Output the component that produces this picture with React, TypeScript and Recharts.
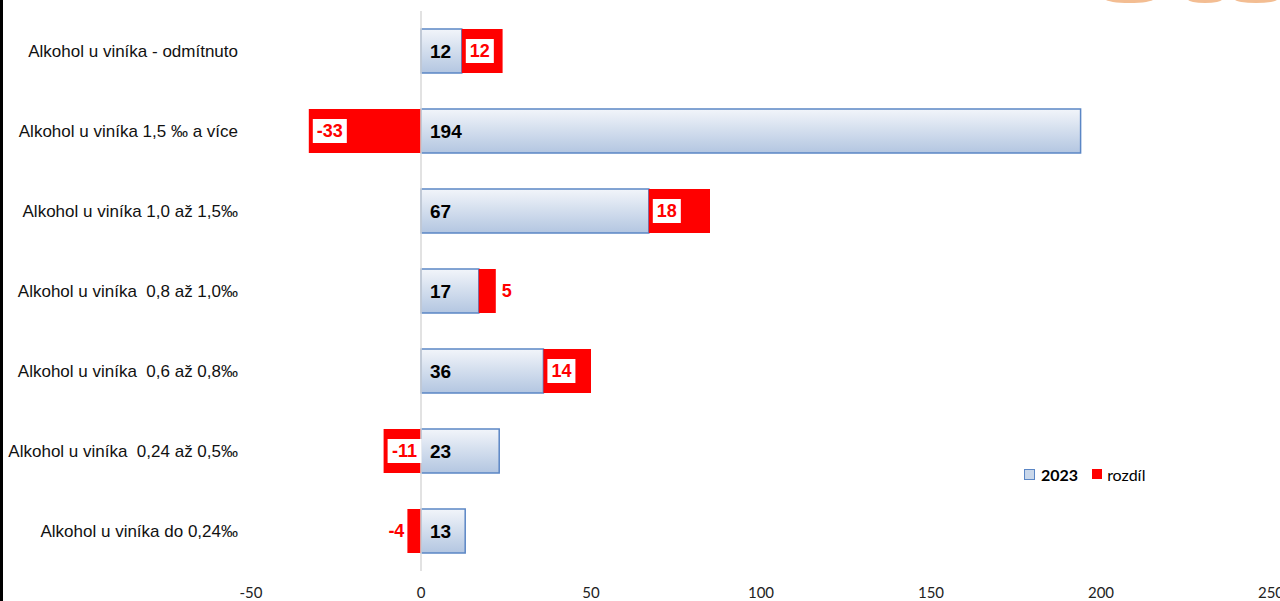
import { BarChart, Bar, XAxis, YAxis, ReferenceLine, LabelList } from 'recharts';

const categories = [
  'Alkohol u viníka - odmítnuto',
  'Alkohol u viníka 1,5 ‰ a více',
  'Alkohol u viníka 1,0 až 1,5‰',
  'Alkohol u viníka  0,8 až 1,0‰',
  'Alkohol u viníka  0,6 až 0,8‰',
  'Alkohol u viníka  0,24 až 0,5‰',
  'Alkohol u viníka do 0,24‰',
];
const values2023 = [12, 194, 67, 17, 36, 23, 13];
const rozdil = [12, -33, 18, 5, 14, -11, -4];
const xTicks = [-50, 0, 50, 100, 150, 200, 250];

const data = categories.map((name, i) => ({
  name,
  v2023: values2023[i],
  rozdil: rozdil[i],
}));

const ARIAL = '"Liberation Sans", Arial, sans-serif';
const CALIBRI = 'Lato, "Open Sans", sans-serif';
const RED_SIZE = 18;

// rough width of bold Arial digits, for the white label boxes
const textWidth = (s: string, size: number) =>
  s.split('').reduce((w, ch) => w + (ch === '-' ? 0.333 : 0.556) * size, 0);

const CategoryTick = ({ x, y, payload }: any) => (
  <text
    x={x - 5}
    y={y}
    dy={6}
    textAnchor="end"
    fontFamily={ARIAL}
    fontSize={17}
    fill="#111"
    xmlSpace="preserve"
    style={{ whiteSpace: 'pre' }}
  >
    {payload.value}
  </text>
);

const ValueTick = ({ x, y, payload }: any) => (
  <text x={x} y={y} dy={19} textAnchor="middle" fontFamily={CALIBRI} fontSize={15} fill="#222">
    {payload.value}
  </text>
);

const ValueLabel = (props: any) => {
  const { x, y, width, height, value } = props;
  const left = Math.min(x, x + width);
  return (
    <text
      x={left + 9}
      y={y + height / 2}
      dy={7}
      fontFamily={ARIAL}
      fontWeight="bold"
      fontSize={19}
      fill="#000"
    >
      {value}
    </text>
  );
};

const DiffLabel = (props: any) => {
  const { x, y, width, height, value } = props;
  const left = Math.min(x, x + width);
  const right = Math.max(x, x + width);
  const cy = y + height / 2;
  const txt = String(value);
  const common = {
    fontFamily: ARIAL,
    fontWeight: 'bold' as const,
    fontSize: RED_SIZE,
    fill: '#ff0000',
  };
  if (Math.abs(value) < 10) {
    return value > 0 ? (
      <text x={right + 6} y={cy} dy={6} textAnchor="start" {...common}>
        {txt}
      </text>
    ) : (
      <text x={left - 3} y={cy} dy={6} textAnchor="end" {...common}>
        {txt}
      </text>
    );
  }
  const boxW = textWidth(txt, RED_SIZE) + 8;
  return (
    <g>
      <rect x={left + 4} y={cy - 12} width={boxW} height={24} fill="#fff" />
      <text x={left + 4 + boxW / 2} y={cy} dy={6} textAnchor="middle" {...common}>
        {txt}
      </text>
    </g>
  );
};

export default function App() {
  return (
    <div
      style={{
        position: 'absolute',
        left: 0,
        top: 0,
        width: 1280,
        height: 601,
        overflow: 'hidden',
        background: '#fff',
      }}
    >
      {/* left frame edge and the decoration peeking in at the top */}
      <div style={{ position: 'absolute', left: 0, top: 0, width: 3, height: 601, background: '#000' }} />
      <div style={{ position: 'absolute', left: 1106, top: -4, width: 47, height: 7, borderRadius: '50%', background: '#f3bd92' }} />
      <div style={{ position: 'absolute', left: 1188, top: -4, width: 34, height: 7, borderRadius: '50%', background: '#f3bd92' }} />
      <div style={{ position: 'absolute', left: 1235, top: -4, width: 42, height: 7, borderRadius: '50%', background: '#f3bd92' }} />

      <BarChart
        width={1300}
        height={601}
        data={data}
        layout="vertical"
        stackOffset="sign"
        margin={{ top: 11, right: 29, left: 0, bottom: 0 }}
        barSize={44}
      >
        <defs>
          <linearGradient id="blueGrad" x1="0" y1="0" x2="0" y2="1">
            <stop offset="0%" stopColor="#f2f5fa" />
            <stop offset="55%" stopColor="#cfdbec" />
            <stop offset="100%" stopColor="#b3c6e1" />
          </linearGradient>
        </defs>
        <XAxis
          type="number"
          domain={[-50, 250]}
          ticks={xTicks}
          axisLine={false}
          tickLine={false}
          height={30}
          tick={<ValueTick />}
          interval={0}
        />
        <YAxis
          type="category"
          dataKey="name"
          width={251}
          axisLine={false}
          tickLine={false}
          tick={<CategoryTick />}
          interval={0}
        />
        <ReferenceLine x={0} stroke="#d9d9d9" strokeWidth={1.5} />
        <Bar dataKey="v2023" name="2023" stackId="a" fill="url(#blueGrad)" stroke="#5b86c5" strokeWidth={1.5} isAnimationActive={false}>
          <LabelList dataKey="v2023" content={<ValueLabel />} />
        </Bar>
        <Bar dataKey="rozdil" name="rozdíl" stackId="a" fill="#ff0000" isAnimationActive={false}>
          <LabelList dataKey="rozdil" content={<DiffLabel />} />
        </Bar>
      </BarChart>

      {/* legend */}
      <div
        style={{
          position: 'absolute',
          left: 1024,
          top: 464,
          height: 20,
          display: 'flex',
          alignItems: 'center',
          fontFamily: CALIBRI,
          fontSize: 16,
          color: '#000',
        }}
      >
        <span
          style={{
            display: 'inline-block',
            width: 9,
            height: 9,
            background: '#c9d7ea',
            border: '1px solid #5b86c5',
            marginRight: 6,
          }}
        />
        <span style={{ fontWeight: 'bold', marginRight: 14 }}>2023</span>
        <span style={{ display: 'inline-block', width: 10, height: 10, background: '#ff0000', marginRight: 5 }} />
        <span>rozdíl</span>
      </div>
    </div>
  );
}
